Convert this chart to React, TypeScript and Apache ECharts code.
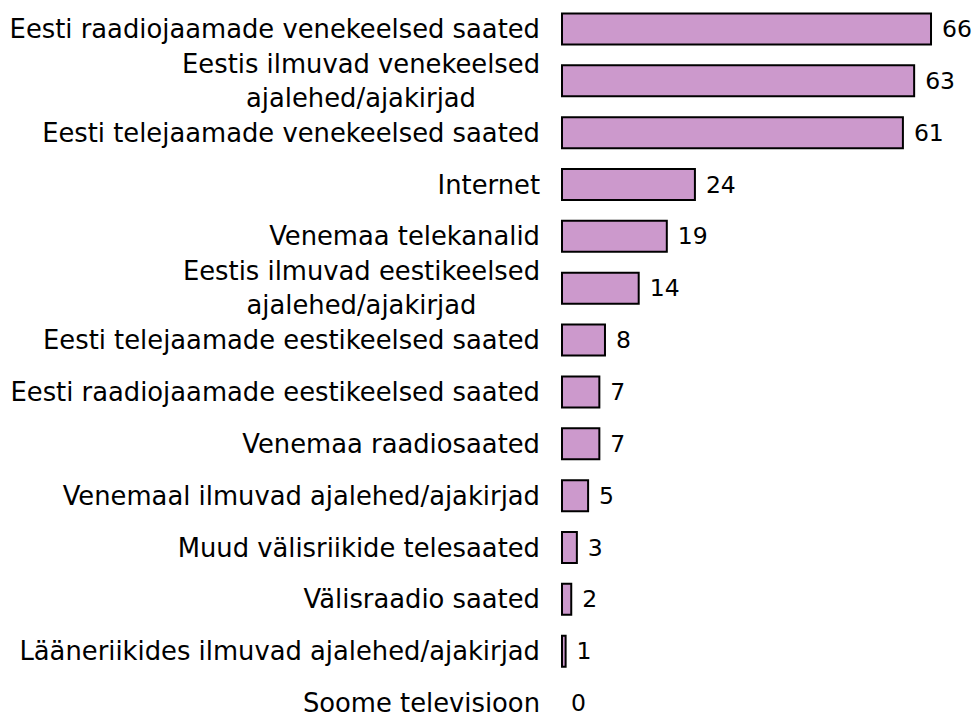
import React, { useEffect, useRef } from "react";
import * as echarts from "echarts";

const categories: string[] = [
  "Eesti raadiojaamade venekeelsed saated",
  "Eestis ilmuvad venekeelsed\najalehed/ajakirjad",
  "Eesti telejaamade venekeelsed saated",
  "Internet",
  "Venemaa telekanalid",
  "Eestis ilmuvad eestikeelsed\najalehed/ajakirjad",
  "Eesti telejaamade eestikeelsed saated",
  "Eesti raadiojaamade eestikeelsed saated",
  "Venemaa raadiosaated",
  "Venemaal ilmuvad ajalehed/ajakirjad",
  "Muud välisriikide telesaated",
  "Välisraadio saated",
  "Lääneriikides ilmuvad ajalehed/ajakirjad",
  "Soome televisioon",
];

const values: number[] = [66, 63, 61, 24, 19, 14, 8, 7, 7, 5, 3, 2, 1, 0];

export default function App() {
  const ref = useRef<HTMLDivElement>(null);
  useEffect(() => {
    if (!ref.current) return;
    const chart = echarts.init(ref.current, null, { renderer: "svg" });
    const font = "'DejaVu Sans', Verdana, sans-serif";
    chart.setOption({
      animation: false,
      backgroundColor: "#ffffff",
      grid: { left: 561, top: 3, width: 393.5, height: 726, containLabel: false },
      xAxis: {
        type: "value",
        min: 0,
        max: 70,
        show: false,
      },
      yAxis: {
        type: "category",
        data: categories,
        inverse: true,
        axisLine: { show: false },
        axisTick: { show: false },
        axisLabel: {
          margin: 21,
          fontFamily: font,
          fontSize: 25.8,
          color: "#000000",
          lineHeight: 26,
          formatter: (v: string) => {
            const lines = v.split("\n");
            const tag = lines.length > 1 ? "c" : "s";
            return lines.map((l) => `{${tag}|${l}}`).join("\n");
          },
          rich: {
            c: {
              fontFamily: font,
              fontSize: 25.8,
              color: "#000000",
              lineHeight: 34,
              align: "center",
            },
            s: {
              fontFamily: font,
              fontSize: 25.8,
              color: "#000000",
              lineHeight: 26,
            },
          },
        },
      },
      series: [
        {
          type: "bar",
          data: values.map((v) =>
            v === 0 ? { value: v, itemStyle: { borderWidth: 0 } } : v
          ),
          barWidth: 33,
          itemStyle: {
            color: "#cc99cc",
            borderColor: "#000000",
            borderWidth: 2,
          },
          label: {
            show: true,
            position: "right",
            distance: 10,
            fontFamily: font,
            fontSize: 23.5,
            lineHeight: 24,
            color: "#000000",
          },
        },
      ],
    });
    return () => chart.dispose();
  }, []);
  return (
    <div
      ref={ref}
      style={{ position: "fixed", left: 0, top: 0, width: 977, height: 740 }}
    />
  );
}
